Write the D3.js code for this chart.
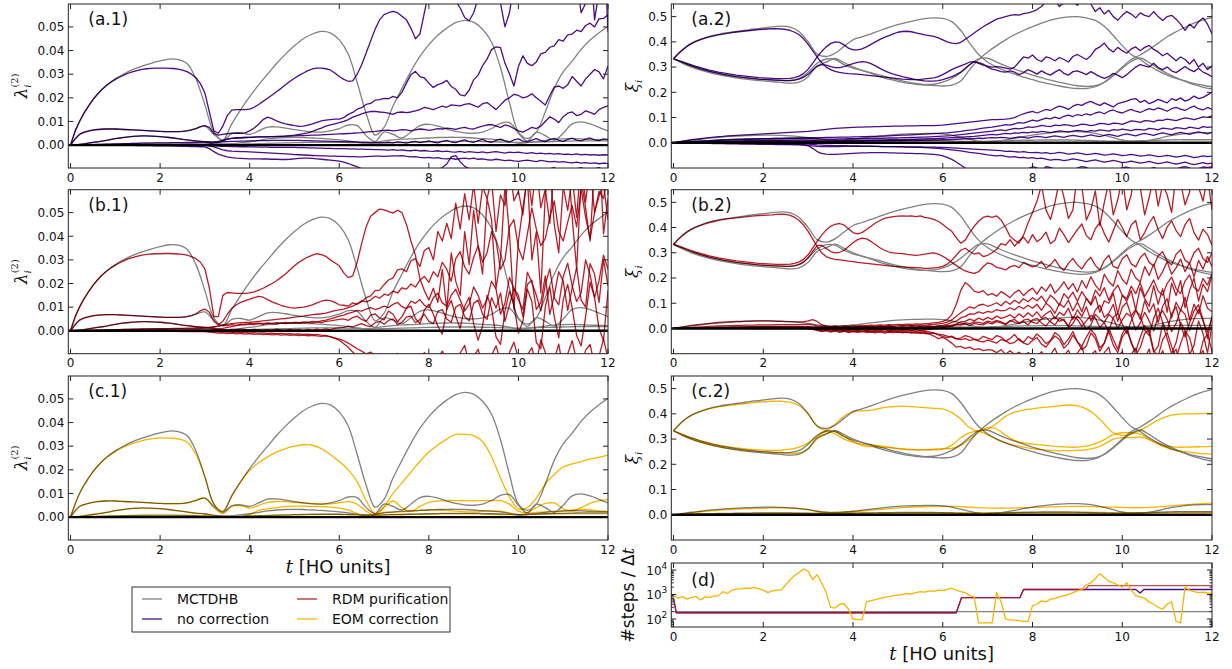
<!DOCTYPE html>
<html><head><meta charset="utf-8">
<script src="https://cdn.jsdelivr.net/npm/d3@7"></script>
<style>
html,body{margin:0;padding:0;background:#fff;}
svg{display:block;font-family:"DejaVu Sans",sans-serif;}
.mult{mix-blend-mode:multiply;}
</style></head><body>
<script>
// ---------- sampling grids (time in HO units) ----------
const tCoarse = d3.range(61).map(i => i / 5);   // step 0.2
const tFine = d3.range(121).map(i => i / 10);   // step 0.1

// value units: lambda arrays in 1e-4, xi arrays in 1e-3
const LAM = 1e-4, XI = 1e-3;

// ---------- MCTDHB reference: lambda^(2) (coarse grid) ----------
const lamRef1 = [0,
 100,165,215,252,280, 302,320,334,346,356, 364,362,345,280,170, 55,22,90,150,205,
 255,300,345,385,420, 450,470,481,475,445, 385,265,135,42,75, 165,240,312,375,425,
 465,495,518,528,520, 490,435,327,180,55, 28,55,140,240,310, 355,405,445,475,503];
const lamRef2 = [0,
 45,58,65,68,68, 66,64,62,60,58, 57,57,60,70,80, 45,20,48,52,45,
 60,76,77,72,65, 60,56,55,60,70, 85,82,40,15,55, 45,30,55,82,88,
 80,68,58,52,50, 55,70,92,95,50, 18,55,40,20,50, 90,98,90,75,60];
const lamRef3 = [0,
 3,8,14,20,27, 33,37,39,38,36, 32,27,22,17,14, 8,5,6,10,14,
 20,26,30,32,33, 32,30,28,25,22, 18,12,8,12,18, 22,25,26,28,30,
 32,33,33,32,30, 27,25,22,15,8, 10,15,20,24,26, 27,26,24,23,22];
const lamRef4 = [0,
 1,2,3,4,5, 6,7,8,8,8, 8,8,7,6,5, 4,3,3,4,5,
 6,7,8,9,10, 11,12,12,12,12, 11,10,9,8,9, 10,11,12,13,14,
 15,16,16,16,16, 15,14,13,12,11, 12,13,14,15,16, 17,18,18,18,18];

// ---------- MCTDHB reference: xi (coarse grid) ----------
const xiRef1 = [333,
 370,395,410,422,430, 436,441,446,451,455, 459,462,458,440,400, 352,342,355,382,408,
 420,432,445,457,468, 477,485,492,495,493, 480,445,395,350,320, 300,285,272,260,250,
 240,232,225,219,215, 215,222,240,268,300, 330,348,370,395,420, 440,458,474,487,497];
const xiRef2 = [333,
 318,305,293,283,275, 268,262,257,253,250, 248,247,247,255,280, 315,332,330,310,296,
 287,278,268,258,249, 241,235,230,227,225, 228,245,290,330,360, 385,408,428,445,460,
 474,486,494,499,500, 495,485,462,425,385, 350,330,305,285,268, 255,245,235,228,222];
const xiRef3 = [333,
 315,300,288,278,270, 263,257,252,248,245, 242,239,236,240,262, 305,320,334,318,300,
 287,275,262,252,243, 236,232,230,232,240, 255,278,308,333,335, 320,305,292,280,268,
 258,248,240,232,226, 223,226,240,265,295, 322,336,318,295,275, 258,243,230,220,213];
const xiRef4 = [0,
 5,10,14,18,21, 24,26,28,29,30, 30,29,27,24,20, 14,10,9,11,14,
 18,22,26,30,33, 35,36,37,37,35, 30,22,13,6,4, 6,11,17,24,30,
 35,39,42,44,44, 42,37,29,20,11, 5,4,9,17,25, 31,36,39,40,40];
const xiRef5 = [0,
 1,2,3,4,5, 5,6,6,7,7, 7,7,7,6,6, 5,5,5,6,6,
 7,7,8,8,9, 9,9,9,9,8, 7,6,5,5,6, 7,8,9,10,10,
 11,11,11,11,10, 9,8,7,6,6, 7,8,9,10,11, 12,12,12,12,12];

// ---------- no correction: lambda^(2) (fine grid) ----------
const lamNoCorr1 = [0,
 60,100,135,165,192,215,235,252,266,278, 288,297,305,311,316,320,323,325,326,326,
 326,325,324,321,317,311,300,285,260,220, 140,60,50,80,125,148,150,150,150,152,
 160,172,185,198,212,226,240,255,270,283, 295,305,315,322,326,326,323,318,305,290,
 278,270,272,300,340,390,440,490,530,552, 560,566,560,545,530,495,450,470,560,650,
 700,720,700,660,640,610,580,540,526,560, 620,680,720,700,690,600,500,560,680,760,
 800,820,800,790,800,820,850,860,870,880, 900,850,700,560,600,800,530,650,900,480];
const lamNoCorr2 = [0,
 25,45,55,60,64,66,67,68,68,68, 67,66,65,64,63,62,61,60,59,58,
 57,57,57,57,58,60,64,70,78,82, 75,48,42,45,48,50,50,50,52,60,
 72,88,108,118,112,102,95,90,86,82, 79,80,84,90,96,102,106,108,110,110,
 116,130,138,152,158,172,176,190,192,198, 196,206,200,224,262,298,312,290,284,262,
 244,256,262,274,248,236,212,208,232,276, 296,336,364,404,416,412,346,302,250,332,
 378,346,336,352,386,392,414,420,446,440, 466,470,486,480,506,516,500,534,536,552];
const lamNoCorr3 = [0,
 1,3,5,8,11,14,17,20,24,27, 30,33,35,37,38,39,39,38,37,36,
 34,32,30,27,24,22,20,18,16,14, 12,10,12,18,25,28,30,31,32,33,
 34,35,35,35,36,36,37,38,40,42, 45,48,52,58,65,72,80,85,90,95,
 100,108,118,125,132,138,142,143,140,138, 135,130,138,140,137,140,145,150,160,155,
 150,158,165,160,170,168,166,172,175,168, 160,175,180,165,150,170,190,200,215,210,
 200,205,217,200,185,170,210,245,250,240, 255,290,270,250,280,300,320,310,280,335];
const lamNoCorr4 = [0,
 0,1,1,2,2,3,3,4,4,5, 5,6,6,7,7,8,8,8,9,9,
 9,9,10,10,10,11,11,12,12,13, 13,14,16,20,25,28,30,31,32,33,
 34,35,35,36,36,37,37,38,38,39, 40,40,41,42,42,43,44,45,46,47,
 48,49,50,52,53,55,57,58,60,62, 63,60,62,65,64,60,64,68,66,62,
 65,70,68,72,70,66,72,75,70,68, 75,80,85,87,80,75,85,80,70,60,
 55,65,75,70,80,100,120,110,95,120, 135,140,125,130,145,138,130,150,160,166];
const lamNoCorr5 = [0,
 0,0,0,0,0,0,0,0,0,0, -1,-1,-1,-1,-2,-2,-2,-2,-3,-3,
 -3,-3,-4,-4,-5,-5,-6,-6,-7,-8, -15,-28,-38,-45,-50,-53,-55,-56,-57,-58,
 -58,-58,-59,-59,-60,-60,-61,-61,-60,-58, -56,-55,-55,-56,-58,-60,-62,-64,-66,-68,
 -72,-78,-85,-92,-100,-108,-115,-120,-125,-128, -130,-132,-128,-125,-130,-135,-130,-120,-125,-135,
 -120,-105,-95,-80,-50,-45,-70,-90,-100,-110, -120,-110,-100,-115,-125,-120,-105,-110,-125,-130,
 -118,-105,-112,-125,-130,-115,-100,-95,-110,-120, -125,-110,-100,-95,-105,-110,-100,-95,-105,-100];
const lamNoCorr6 = [0,
 0,0,0,0,0,0,0,0,0,0, 0,0,0,0,0,-1,-1,-1,-1,-1,
 -1,-1,-1,-1,-1,-1,-1,-1,-2,-2, -3,-8,-14,-20,-24,-26,-27,-28,-28,-29,
 -30,-31,-32,-33,-34,-35,-36,-37,-38,-40, -41,-42,-43,-44,-45,-46,-46,-47,-47,-48,
 -48,-49,-49,-50,-50,-49,-48,-47,-47,-48, -47,-46,-46,-45,-48,-50,-49,-52,-54,-52,
 -55,-53,-57,-58,-56,-60,-57,-55,-58,-55, -60,-58,-62,-64,-60,-63,-66,-64,-67,-69,
 -66,-64,-67,-70,-65,-68,-71,-69,-72,-70, -73,-75,-72,-76,-74,-77,-75,-79,-76,-78];
const lamNoCorr7 = [0,
 0,0,0,0,0,0,0,0,0,0, 0,0,0,0,0,0,0,0,0,0,
 0,0,0,1,1,1,1,1,2,2, 5,10,12,14,15,16,16,17,17,18,
 18,19,19,19,20,20,20,20,20,20, 20,19,19,18,18,17,17,16,16,15,
 15,14,14,13,12,12,11,11,10,10, 12,9,14,11,8,13,16,10,14,18,
 12,9,16,20,13,10,17,22,15,11, 19,24,16,12,20,25,18,13,22,26,
 17,14,21,27,19,15,23,28,20,16, 24,29,21,18,25,30,22,19,26,24];
const lamNoCorr8 = [0,
 0,0,0,0,0,0,0,0,0,0, 0,0,0,0,0,0,0,0,0,0,
 0,0,0,0,0,0,0,0,0,-1, -2,-3,-4,-5,-5,-6,-6,-7,-7,-8,
 -8,-9,-9,-9,-10,-10,-10,-10,-10,-10, -11,-11,-12,-12,-13,-13,-14,-14,-15,-15,
 -15,-16,-16,-17,-17,-18,-18,-19,-19,-20, -21,-19,-22,-20,-23,-24,-21,-25,-23,-26,
 -27,-24,-28,-26,-29,-30,-27,-31,-28,-30, -32,-29,-33,-30,-28,-31,-34,-30,-32,-30,
 -33,-35,-32,-36,-34,-37,-35,-38,-36,-39, -38,-40,-37,-41,-39,-42,-40,-43,-41,-42];

// ---------- no correction: xi (fine grid) ----------
const xiNoCorr1 = [333,
 352,368,382,393,402,409,415,420,424,428, 431,434,437,439,441,443,445,447,449,450,
 451,452,452,451,449,445,438,428,412,390, 365,340,318,300,290,283,279,276,274,273,
 272,270,268,266,264,262,260,258,256,254, 252,251,250,250,251,253,255,257,262,270,
 280,290,298,305,312,320,322,315,308,304, 300,302,300,296,292,300,320,340,335,348,
 330,322,340,335,325,338,330,320,342,350, 340,330,345,370,380,395,372,360,378,365,
 355,372,380,365,378,386,370,360,345,355, 340,325,340,330,312,330,300,315,290,305];
const xiNoCorr2 = [333,
 327,321,315,309,303,298,293,288,284,280, 277,274,271,268,266,264,262,260,258,257,
 256,255,254,254,254,255,258,264,275,292, 315,340,362,380,393,400,398,388,375,368,
 368,372,380,390,400,410,418,425,432,438, 441,442,440,436,432,428,425,422,416,408,
 400,395,393,398,410,422,435,448,460,470, 480,490,495,500,505,508,506,512,515,520,
 528,540,560,575,565,540,555,580,560,545, 570,585,550,520,535,510,525,500,486,505,
 520,510,495,515,505,500,520,500,485,500, 505,490,470,445,470,455,480,495,470,432];
const xiNoCorr3 = [333,
 326,319,312,305,299,293,288,283,279,275, 271,268,265,262,260,258,256,254,252,251,
 250,249,248,247,246,246,248,252,260,272, 288,303,310,308,302,298,298,302,308,314,
 319,322,320,314,305,295,286,278,272,267, 262,258,254,250,247,245,244,244,246,250,
 256,262,270,280,295,310,322,318,312,300, 292,288,282,280,285,280,270,278,290,282,
 272,285,275,268,280,290,275,268,282,285, 278,270,282,272,262,255,262,275,268,258,
 270,285,300,310,305,300,315,298,290,300, 285,278,290,302,290,282,295,280,272,262];
const xiNoCorr4 = [0,
 3,6,9,12,14,16,18,20,22,24, 25,27,28,29,30,31,32,33,34,35,
 36,37,38,39,40,41,42,43,44,45, 47,49,51,53,55,57,58,59,60,61,
 62,62,63,63,64,64,65,65,66,66, 66,67,67,67,68,68,68,68,69,70,
 72,74,76,78,80,82,84,86,88,90, 92,92,93,94,96,100,108,115,120,124,
 118,125,132,128,138,145,140,132,145,152, 148,158,164,155,148,158,150,142,155,160,
 165,172,175,160,168,155,162,172,165,158, 175,168,178,165,172,185,175,180,190,200];
const xiNoCorr5 = [0,
 1,2,3,4,5,6,7,8,9,10, 11,12,13,13,14,14,15,15,16,16,
 16,17,17,17,18,18,18,19,19,20, 20,20,20,21,21,21,22,22,22,23,
 23,24,24,25,25,26,26,27,28,29, 30,30,31,32,33,34,35,36,37,38,
 39,41,43,45,48,50,52,55,58,60, 62,65,68,72,70,75,80,78,84,90,
 86,92,98,95,102,96,105,110,104,112, 108,115,110,118,122,115,125,130,122,118,
 126,132,125,120,128,135,130,138,132,125, 135,140,133,128,138,145,135,130,140,132];
const xiNoCorr6 = [0,
 1,2,3,4,5,6,7,8,9,10, 11,12,12,13,13,14,14,15,15,16,
 16,16,17,17,17,18,18,18,18,18, 17,16,15,14,14,14,15,15,16,16,
 16,17,17,17,18,18,18,19,19,19, 20,20,21,21,22,22,23,24,25,26,
 27,28,30,32,34,36,38,40,42,44, 46,49,51,48,53,57,55,58,63,61,
 64,69,66,64,70,68,72,70,66,69, 74,72,68,71,77,76,72,78,77,73,
 80,87,85,81,88,87,83,90,89,94, 91,88,94,99,96,92,97,103,101,107];
const xiNoCorr7 = [0,
 0,1,1,2,2,3,3,4,4,5, 5,6,6,7,7,8,8,8,9,9,
 9,10,10,10,10,11,11,11,11,11, 10,8,7,7,7,8,8,8,9,9,
 9,10,10,10,11,11,11,12,12,12, 13,13,14,14,15,15,16,16,17,18,
 19,20,21,22,23,24,25,27,29,31, 33,31,34,37,35,39,38,41,39,43,
 41,45,43,40,44,47,45,42,46,49, 47,44,48,46,51,49,46,52,50,54,
 51,48,53,52,50,57,55,51,58,56, 53,60,58,55,62,59,56,64,61,63];
const xiNoCorr8 = [0,
 0,0,1,1,1,2,2,2,3,3, 3,3,4,4,4,4,5,5,5,5,
 5,5,6,6,6,6,6,6,6,6, 6,6,5,5,5,5,5,5,6,6,
 6,6,7,7,7,7,8,8,8,8, 8,9,9,9,10,10,10,11,11,12,
 12,13,14,15,16,17,16,18,17,19, 20,19,21,20,17,20,23,21,18,22,
 25,23,20,24,27,24,21,26,29,26, 23,27,31,27,24,29,33,29,25,31,
 35,31,27,33,37,33,29,35,39,35, 31,37,41,37,33,39,43,39,35,41];
const xiNoCorr9 = [0,
 0,0,0,0,0,-1,-1,-1,-1,-1, -1,-2,-2,-2,-2,-2,-3,-3,-3,-3,
 -3,-4,-4,-4,-4,-5,-5,-6,-8,-12, -22,-35,-42,-45,-46,-46,-45,-44,-43,-42,
 -41,-40,-40,-39,-39,-39,-39,-40,-40,-41, -41,-42,-42,-43,-43,-44,-45,-46,-48,-52,
 -58,-66,-76,-88,-100,-110,-118,-125,-130,-132, -135,-130,-125,-128,-132,-125,-118,-110,-102,-95,
 -100,-108,-95,-98,-105,-112,-120,-115,-108,-100, -95,-98,-106,-112,-118,-125,-120,-112,-105,-100,
 -96,-102,-110,-118,-112,-105,-98,-104,-112,-118, -110,-104,-98,-95,-100,-108,-102,-96,-98,-96];
const xiNoCorr10 = [0,
 0,0,-1,-1,-1,-2,-2,-2,-3,-3, -3,-4,-4,-4,-5,-5,-5,-5,-6,-6,
 -6,-6,-7,-7,-7,-7,-8,-8,-9,-10, -12,-14,-15,-15,-15,-15,-15,-14,-14,-14,
 -14,-14,-14,-14,-14,-15,-15,-15,-15,-15, -15,-16,-16,-16,-16,-17,-17,-17,-18,-18,
 -19,-20,-21,-22,-23,-24,-25,-26,-27,-28, -29,-30,-31,-34,-33,-35,-37,-35,-38,-39,
 -38,-41,-39,-43,-41,-38,-41,-45,-43,-40, -43,-47,-45,-42,-45,-49,-47,-44,-47,-51,
 -49,-46,-49,-53,-51,-48,-51,-55,-53,-50, -53,-57,-54,-50,-54,-59,-56,-52,-55,-53];
const xiNoCorr11 = [0,
 0,0,0,0,0,0,0,-1,-1,-1, -1,-1,-1,-2,-2,-2,-2,-2,-3,-3,
 -3,-3,-3,-3,-4,-4,-4,-4,-5,-5, -6,-8,-9,-10,-10,-11,-11,-11,-12,-12,
 -12,-13,-13,-13,-14,-14,-15,-15,-15,-16, -16,-17,-17,-18,-18,-19,-20,-21,-22,-24,
 -26,-28,-30,-32,-35,-38,-40,-42,-45,-48, -50,-52,-50,-54,-57,-55,-59,-58,-61,-59,
 -63,-61,-65,-69,-66,-67,-71,-68,-64,-67, -71,-75,-71,-68,-73,-77,-74,-70,-74,-79,
 -77,-73,-77,-81,-78,-74,-79,-83,-80,-76, -81,-85,-81,-77,-83,-87,-83,-79,-84,-81];

// ---------- RDM purification: lambda^(2) (fine grid) ----------
const lamPurif1 = [0,
 60,100,135,165,192,215,235,252,266,278, 288,297,305,311,316,320,323,325,326,326,
 327,327,326,325,323,320,314,305,290,262, 180,60,60,150,162,160,158,158,158,160,
 165,172,180,190,200,212,226,240,258,275, 290,302,312,320,326,322,315,300,288,275,
 245,225,232,290,370,440,485,500,515,512, 505,498,510,500,450,380,320,220,170,130,
 180,120,260,90,330,210,150,420,280,510, 360,240,560,470,180,300,620,410,90,380,
 520,650,300,420,160,580,700,450,330,610, 750,480,260,640,520,380,700,820,410,560];
const lamPurif2 = [0,
 25,45,55,60,64,66,67,68,68,68, 67,66,65,64,63,62,61,60,59,58,
 57,57,57,57,58,60,64,72,85,92, 78,40,25,40,70,95,110,120,128,134,
 140,146,142,132,122,115,108,102,98,96, 98,100,104,110,118,125,130,128,120,110,
 108,104,118,112,128,122,130,146,138,155, 150,168,160,182,176,198,185,214,230,205,
 250,228,290,260,210,305,335,270,240,310, 360,290,330,420,380,260,300,440,470,350,
 300,410,520,430,360,390,480,550,420,380, 460,530,440,600,480,390,500,570,620,470];
const lamPurif3 = [0,
 1,3,5,8,11,14,17,20,24,27, 30,33,35,37,38,39,39,38,37,36,
 34,32,30,27,24,22,20,18,16,14, 12,10,8,10,14,18,22,25,28,30,
 31,32,30,33,31,34,32,35,33,36, 34,38,36,40,38,42,45,50,56,62,
 66,74,79,86,83,92,98,90,96,104, 98,112,120,102,94,126,116,132,108,98,
 140,160,118,104,150,176,130,84,112,186, 150,96,132,210,176,70,118,226,180,130,
 90,248,204,150,84,196,262,140,110,230, 286,190,124,160,300,236,140,212,320,260];
const lamPurif4 = [0,
 0,1,1,2,2,3,3,4,4,5, 5,6,6,7,7,8,8,8,9,9,
 9,9,10,10,10,11,11,12,12,13, 15,18,20,24,22,26,23,27,25,28,
 26,30,27,31,29,28,32,30,33,31, 34,32,36,33,38,35,40,42,45,48,
 50,44,56,62,48,40,66,72,54,46, 84,70,38,60,96,104,52,30,88,112,
 70,20,-14,90,128,60,10,104,142,30, -40,20,150,96,-26,-58,84,168,110,-10,
 40,176,124,-50,-76,100,186,60,-30,132, 196,96,-20,-64,60,206,140,8,-40,170];
const lamPurif5 = [0,
 0,0,0,0,0,0,0,0,0,0, 0,0,0,-1,-1,-1,-1,-1,-1,-2,
 -2,-2,-2,-2,-3,-3,-3,-3,-4,-4, -6,-8,-10,-9,-12,-10,-13,-11,-14,-12,
 -15,-13,-16,-14,-17,-15,-18,-16,-19,-17, -20,-18,-21,-19,-22,-24,-22,-26,-30,-35,
 -42,-52,-64,-76,-86,-98,-90,-106,-118,-100, -122,-108,-96,-132,-124,-104,-140,-120,-92,-128,
 -148,-116,-86,-122,-162,-118,-94,-62,-138,-110, -78,-146,-168,-104,-64,-126,-156,-92,-48,-118,
 -158,-102,-72,-138,-38,-92,-152,-122,-56,-162, -98,-42,-128,-158,-82,-58,-146,-108,-34,-118];
const lamPurif6 = [0,
 0,0,0,0,0,0,0,0,0,0, 0,0,0,0,0,0,0,0,-1,-1,
 -1,-1,-1,-1,-1,-2,-2,-2,-2,-2, -3,-4,-5,-6,-5,-7,-6,-8,-7,-9,
 -8,-10,-9,-11,-10,-12,-11,-13,-12,-14, -13,-15,-14,-16,-15,-18,-20,-25,-32,-40,
 -55,-70,-90,-110,-130,-150,-140,-160,-150,-170, -160,-180,-150,-175,-190,-160,-185,-170,-195,-175,
 -160,-185,-170,-195,-180,-160,-190,-175,-200,-180, -165,-190,-175,-200,-185,-170,-195,-180,-160,-190,
 -175,-200,-185,-165,-190,-180,-200,-170,-190,-180, -165,-195,-180,-200,-175,-190,-170,-195,-185,-180];
const lamPurif7 = [0,
 0,0,1,1,1,2,2,2,3,3, 3,4,4,4,5,5,5,6,6,6,
 6,7,7,7,8,8,8,9,9,10, 12,15,20,25,28,30,32,34,35,36,
 38,40,42,44,46,48,50,52,55,58, 60,62,65,68,70,72,75,80,85,88,
 92,98,104,115,122,140,148,170,172,195, 215,224,258,262,250,296,305,272,340,352,
 300,420,380,455,390,540,430,580,470,620, 455,610,560,640,420,575,530,700,550,590,
 490,670,530,705,520,600,455,690,600,610, 510,650,480,730,545,700,500,590,560,660];
const lamPurif8 = [0,
 0,0,0,1,1,1,1,1,1,1, 1,1,1,1,1,1,1,1,1,1,
 1,1,1,1,1,1,1,1,1,1, 2,4,6,5,3,6,4,7,5,3,
 6,4,2,5,3,7,4,2,6,3, 5,2,6,3,7,4,8,5,10,12,
 14,20,16,24,30,22,18,34,40,28, 44,50,26,36,58,62,34,48,70,40,
 30,82,90,50,36,100,112,60,42,116, 130,70,48,140,96,160,40,110,178,150,
 60,196,214,90,120,232,70,150,250,210, 86,180,268,130,100,284,240,120,300,190];

// ---------- RDM purification: xi (fine grid) ----------
const xiPurif1 = [333,
 352,368,382,393,402,409,415,420,424,428, 431,434,436,438,440,442,444,446,447,448,
 449,450,452,453,452,448,440,428,410,385, 355,325,300,285,278,274,272,270,267,265,
 262,260,258,256,254,252,250,248,246,245, 244,243,242,241,240,238,238,240,242,246,
 255,270,290,310,318,305,295,300,285,290, 300,314,336,330,352,326,348,362,338,372,
 344,358,382,336,350,398,372,340,366,392, 414,368,352,396,420,376,342,388,432,400,
 364,410,428,352,380,418,444,392,356,402, 426,388,364,412,436,380,350,394,372,330];
const xiPurif2 = [333,
 327,321,315,309,303,298,293,288,284,280, 277,274,271,268,266,264,262,260,258,257,
 256,255,254,254,254,255,258,264,275,292, 318,345,370,390,405,413,416,410,395,380,
 375,380,392,405,418,428,436,440,443,445, 446,445,446,443,446,440,437,432,425,412,
 398,385,360,338,350,380,405,425,440,445, 440,446,430,400,365,350,338,370,418,460,
 505,568,470,432,498,590,520,436,470,610, 560,430,470,545,408,500,580,450,510,600,
 470,530,640,560,450,520,600,485,570,530, 460,610,580,490,540,650,560,505,600,470];
const xiPurif3 = [333,
 326,319,312,305,299,293,288,283,279,275, 271,268,265,262,260,258,256,254,252,251,
 250,249,248,247,246,246,248,253,262,280, 305,328,330,318,305,300,302,310,325,340,
 352,358,355,345,333,320,310,303,300,298, 297,294,292,290,292,295,298,300,295,286,
 275,262,250,238,228,222,218,225,245,260, 255,242,238,232,244,250,241,262,252,244,
 250,266,240,252,274,246,230,258,278,252, 236,264,282,250,232,270,290,246,238,276,
 292,256,244,280,298,262,248,288,304,266, 252,294,312,270,258,300,318,276,262,300];
const xiPurif4 = [0,
 3,6,9,12,14,16,18,20,22,24, 25,26,27,28,28,29,29,30,30,30,
 30,29,28,28,27,27,26,26,27,30, 35,28,15,10,8,9,8,10,9,11,
 10,12,11,13,12,14,13,15,14,16, 15,17,16,18,17,19,20,22,24,28,
 35,55,95,150,182,168,148,142,150,132, 138,128,146,135,122,142,152,130,148,160,
 136,165,148,176,140,160,185,155,178,145, 190,160,205,172,150,215,185,168,230,195,
 175,235,200,185,245,210,255,195,225,265, 215,240,275,225,260,205,270,235,285,245];
const xiPurif5 = [0,
 1,2,3,4,5,6,7,8,9,10, 10,11,11,12,12,13,13,13,14,14,
 14,14,15,15,15,15,15,15,16,16, 14,10,8,6,5,6,4,7,5,6,
 8,6,9,7,8,10,8,11,9,10, 12,10,13,11,14,12,15,16,18,20,
 25,34,48,62,74,86,80,92,96,88, 94,102,90,108,96,112,100,118,106,122,
 110,128,102,132,116,92,138,118,144,108, 146,118,98,152,128,162,112,148,172,132,
 118,168,138,182,126,158,192,148,132,178, 204,158,138,188,212,162,148,198,172,218];
const xiPurif6 = [0,
 0,1,1,2,2,3,3,4,4,5, 5,5,6,6,6,7,7,7,8,8,
 8,8,8,8,8,8,8,8,8,8, 6,4,2,3,1,4,2,5,3,1,
 4,2,5,3,1,4,6,3,5,2, 5,3,6,4,7,5,8,6,10,12,
 16,24,29,42,48,58,57,66,60,68, 64,75,70,72,82,74,88,78,92,80,
 96,72,100,86,60,98,84,112,70,105, 66,120,92,128,64,110,100,140,58,132,
 108,150,74,162,118,88,170,96,158,64, 180,130,190,82,150,200,108,176,146,210];
const xiPurif7 = [0,
 0,0,1,1,1,1,2,2,2,2, 2,3,3,3,3,3,3,4,4,4,
 4,4,4,4,4,4,4,4,4,4, 2,0,-2,1,-1,2,0,3,-1,1,
 2,-1,3,0,2,-2,1,3,0,2, -1,2,4,1,3,0,4,2,5,6,
 8,13,17,26,28,37,30,41,33,44, 36,49,40,46,54,41,58,44,62,47,
 66,42,58,70,38,64,52,80,36,74, 48,86,30,72,92,44,60,96,28,84,
 104,50,76,36,110,64,98,22,88,118, 42,104,70,124,34,96,58,130,80,66];
const xiPurif8 = [0,
 0,0,0,0,1,1,1,1,1,1, 1,1,1,1,1,2,2,2,2,2,
 2,2,2,2,2,2,2,2,2,2, 0,-3,-5,-2,-6,-3,-7,-4,-8,-5,
 -7,-4,-8,-5,-3,-7,-4,-8,-6,-3, -6,-4,-7,-5,-8,-6,-4,-2,0,3,
 6,10,15,17,22,19,26,24,20,29, 24,32,26,18,30,36,22,28,14,34,
 40,22,10,32,46,28,36,4,20,50, 30,-4,14,56,38,22,-12,44,60,18,
 -20,30,70,52,-6,-28,40,80,24,-10, 58,86,12,-34,22,70,94,36,-40,50];
const xiPurif9 = [0,
 0,0,0,0,0,0,0,0,0,0, 0,0,0,0,0,0,-1,-1,-1,-1,
 -1,-1,-1,-1,-1,-1,-1,-1,-1,-1, -4,-8,-12,-9,-14,-10,-15,-11,-16,-12,
 -15,-11,-16,-13,-17,-12,-18,-14,-16,-13, -17,-14,-18,-15,-19,-16,-20,-18,-22,-25,
 -30,-34,-41,-44,-40,-47,-43,-50,-53,-46, -52,-58,-44,-49,-60,-55,-40,-58,-64,-48,
 -36,-62,-74,-50,-30,-44,-78,-60,-26,-52, -84,-70,-18,-40,-90,-58,-12,-66,-96,-34,
 -8,-52,-104,-76,-20,-6,-88,-110,-44,-16, -72,-118,-60,-10,-36,-104,-124,-50,-22,-90];
const xiPurif10 = [0,
 0,0,0,0,0,0,0,0,0,0, 0,0,0,0,0,0,0,0,0,0,
 0,0,0,0,0,0,0,0,0,-1, -3,-6,-9,-7,-10,-8,-11,-9,-12,-10,
 -11,-13,-10,-14,-11,-15,-12,-14,-11,-15, -13,-16,-14,-18,-15,-20,-22,-30,-40,-35,
 -45,-58,-74,-71,-79,-74,-84,-80,-88,-84, -86,-96,-84,-102,-88,-104,-94,-108,-96,-106,
 -112,-92,-118,-104,-78,-122,-108,-86,-128,-98, -72,-134,-106,-88,-142,-96,-74,-146,-112,-92,
 -148,-102,-78,-138,-118,-82,-152,-124,-88,-144, -108,-82,-152,-122,-98,-158,-112,-88,-138,-124];
const xiPurif11 = [0,
 0,0,0,0,0,0,0,0,0,0, 0,0,0,0,0,0,0,0,0,0,
 0,0,0,0,0,0,0,0,0,0, -2,-5,-3,-6,-4,-7,-5,-8,-6,-4,
 -7,-5,-8,-6,-9,-7,-5,-8,-6,-9, -7,-10,-8,-11,-9,-12,-14,-18,-25,-32,
 -36,-30,-40,-38,-28,-33,-42,-46,-31,-38, -44,-28,-34,-50,-40,-24,-46,-55,-32,-42,
 -22,-38,-60,-48,-16,-30,-64,-42,-12,-54, -70,-34,-4,-26,-76,-58,2,-44,-82,-20,
 8,-60,-90,-36,12,-18,-94,-70,18,-40, -100,-56,24,-8,-104,-66,30,-20,-98,14];
const xiPurif12 = [0,
 0,0,0,0,0,0,0,0,0,0, 0,0,0,0,0,0,0,0,0,0,
 0,0,0,0,0,0,0,0,0,0, 3,6,4,8,5,9,6,3,7,4,
 8,5,2,6,3,7,4,8,5,2, 6,3,7,4,8,5,9,6,10,8,
 12,8,15,13,18,11,20,16,14,23, 18,27,22,15,31,25,19,33,37,24,
 20,38,44,26,14,40,32,10,47,36, 8,30,52,42,4,24,55,40,0,34,
 60,46,-6,22,64,30,-10,48,70,36, -12,20,74,56,-8,38,76,30,-16,44];

// ---------- EOM correction: lambda^(2) (coarse grid) ----------
const lamEom1 = [0,
 100,165,215,252,278, 298,313,324,331,335, 334,331,318,265,170, 55,25,90,150,198,
 230,255,275,290,300, 306,304,290,265,235, 200,150,70,15,45, 100,145,190,235,275,
 305,330,350,350,345, 320,255,165,85,35, 40,80,140,180,212, 225,235,245,253,262];
const lamEom2 = [0,
 45,58,65,68,68, 66,64,62,60,58, 57,57,60,72,80, 40,15,45,48,38,
 50,62,66,65,62, 60,58,55,56,60, 65,55,25,8,40, 68,40,25,45,62,
 68,70,70,70,69, 70,70,70,55,25, 20,40,58,60,35, 25,40,58,70,74];
const lamEom3 = [0,
 3,8,14,20,27, 33,37,38,37,35, 31,26,21,16,12, 6,3,2,1,10,
 28,35,40,44,46, 46,45,44,42,38, 30,15,5,10,20, 20,22,25,28,30,
 30,28,25,22,22, 24,26,25,18,10, 15,20,22,22,25, 30,32,30,26,24];
const lamEom4 = [0,
 1,2,3,4,4, 5,5,6,6,6, 6,6,5,5,4, 3,2,2,3,4,
 5,6,7,8,9, 10,10,11,11,11, 10,9,8,8,9, 10,11,12,12,13,
 13,14,14,14,14, 13,12,11,10,10, 11,12,13,14,14, 15,15,15,15,15];

// ---------- EOM correction: xi (coarse grid) ----------
const xiEom1 = [333,
 370,395,410,421,428, 433,437,441,445,448, 450,450,446,432,400, 352,335,360,390,410,
 412,415,422,428,430, 430,428,425,422,420, 405,380,345,332,340, 362,390,407,415,420,
 425,428,432,435,432, 420,395,360,325,315, 320,335,355,375,390, 398,400,400,401,402];
const xiEom2 = [333,
 318,305,293,284,276, 270,265,261,258,256, 255,256,260,268,285, 310,330,320,300,288,
 280,277,273,268,262, 258,257,258,260,262, 263,275,300,330,345, 340,315,295,285,280,
 277,273,270,268,268, 272,282,298,318,325, 325,320,300,282,272, 268,268,269,270,271];
const xiEom3 = [333,
 315,300,288,278,270, 264,259,255,252,249, 246,244,243,245,262, 300,322,330,312,290,
 275,270,268,266,263, 260,258,257,257,260, 275,305,325,330,318, 300,285,275,268,262,
 258,255,254,254,255, 258,265,280,300,306, 306,308,298,280,265, 255,250,246,242,240];
const xiEom4 = [0,
 4,8,12,15,18, 20,22,24,25,26, 27,27,26,24,20, 13,9,9,10,12,
 15,18,21,24,27, 29,31,32,33,33, 33,32,30,28,27, 26,26,27,28,29,
 30,31,32,33,33, 33,32,31,30,29, 28,28,29,31,34, 37,40,42,44,46];
const xiEom5 = [0,
 1,2,3,3,4, 4,5,5,5,6, 6,6,6,6,5, 5,4,4,5,5,
 6,6,7,7,7, 8,8,8,8,8, 8,7,7,7,7, 7,8,8,8,9,
 9,9,9,9,9, 9,9,9,8,8, 8,8,9,9,9, 10,10,10,10,10];

// ---------- (d) number of steps per output interval ----------
const stepsExact = [[0, 200], [12, 200]];
const stepsNoCorr = [[0, 700], [0.06, 180], [6.3, 180], [6.42, 750], [7.72, 750], [7.8, 1600],
  [10.3, 1600], [10.4, 1150], [10.48, 1600], [12, 1600]];
const stepsPurif = [[0, 700], [0.06, 180], [6.3, 180], [6.42, 750], [7.72, 750], [7.8, 1600],
  [9.18, 1600], [9.25, 2300], [12, 2300]];
const stepsEom = [900,
 700,820,650,760,820,600,800,760,860,900, 1300,1100,1500,1650,1700,1800,1800,1900,1750,1500,
 1200,1400,1500,1500,2500,4000,6000,8000,11000,9000, 4000,6500,3000,1200,300,280,400,420,250,100,
 95,95,500,560,620,700,760,820,900,950, 1000,1100,1050,1200,1300,1250,1400,1350,1500,1450,
 1600,1800,1500,1300,1200,900,800,70,70,70, 70,1200,500,100,90,90,85,80,80,350,
 400,550,500,650,700,800,900,1000,1200,1400, 1600,2500,3000,4500,7000,5000,3500,3000,2500,2000,
 3000,1500,900,800,700,500,400,300,250,400, 500,80,70,2000,1500,1300,1200,1250,1150,1100];

// ---------- tick values ----------
const xTicks = [0, 2, 4, 6, 8, 10, 12];
const lamTicks = [0, 0.01, 0.02, 0.03, 0.04, 0.05];
const xiTicks = [0, 0.1, 0.2, 0.3, 0.4, 0.5];
const stepTicks = [100, 1000, 10000];

// ---------- styling ----------
const COL = { exact: "#808080", noCorr: "#4b0c87", purif: "#b81d28", eom: "#f7b500" };
const W = 1232, H = 669;
const svg = d3.select("body").append("svg").attr("width", W).attr("height", H);
const defs = svg.append("defs");
svg.append("rect").attr("width", W).attr("height", H).attr("fill", "#fff");

const COLS = { left: [68.3, 608], right: [671.3, 1212] };
const ROWS = { a: [4, 168], b: [189.7, 353.7], c: [376, 540], d: [563, 627] };

const pair = (grid, vals, unit) => {
  const n = Math.min(grid.length, vals.length);
  const out = [];
  for (let i = 0; i < n; i++) out.push([grid[i], vals[i] * unit]);
  return out;
};

const lamExactSet = [lamRef1, lamRef2, lamRef3, lamRef4].map(v => ({ pts: pair(tCoarse, v, LAM), color: COL.exact, smooth: true }));
const xiExactSet = [xiRef1, xiRef2, xiRef3, xiRef4, xiRef5].map(v => ({ pts: pair(tCoarse, v, XI), color: COL.exact, smooth: true }));

const panels = [
  { id: "a1", col: "left", row: "a", kind: "lam", label: "(a.1)",
    series: [...lamExactSet, ...[lamNoCorr1, lamNoCorr2, lamNoCorr3, lamNoCorr4, lamNoCorr5, lamNoCorr6, lamNoCorr7, lamNoCorr8]
      .map(v => ({ pts: pair(tFine, v, LAM), color: COL.noCorr, blend: true }))] },
  { id: "a2", col: "right", row: "a", kind: "xi", label: "(a.2)",
    series: [...xiExactSet, ...[xiNoCorr1, xiNoCorr2, xiNoCorr3, xiNoCorr4, xiNoCorr5, xiNoCorr6, xiNoCorr7, xiNoCorr8, xiNoCorr9, xiNoCorr10, xiNoCorr11]
      .map(v => ({ pts: pair(tFine, v, XI), color: COL.noCorr, blend: true }))] },
  { id: "b1", col: "left", row: "b", kind: "lam", label: "(b.1)",
    series: [...lamExactSet, ...[lamPurif1, lamPurif2, lamPurif3, lamPurif4, lamPurif5, lamPurif6, lamPurif7, lamPurif8]
      .map(v => ({ pts: pair(tFine, v, LAM), color: COL.purif, blend: true }))] },
  { id: "b2", col: "right", row: "b", kind: "xi", label: "(b.2)",
    series: [...xiExactSet, ...[xiPurif1, xiPurif2, xiPurif3, xiPurif4, xiPurif5, xiPurif6, xiPurif7, xiPurif8, xiPurif9, xiPurif10, xiPurif11, xiPurif12]
      .map(v => ({ pts: pair(tFine, v, XI), color: COL.purif, blend: true }))] },
  { id: "c1", col: "left", row: "c", kind: "lam", label: "(c.1)", xlabel: true,
    series: [...lamExactSet, ...[lamEom1, lamEom2, lamEom3, lamEom4]
      .map(v => ({ pts: pair(tCoarse, v, LAM), color: COL.eom, smooth: true, blend: true }))] },
  { id: "c2", col: "right", row: "c", kind: "xi", label: "(c.2)",
    series: [...xiExactSet, ...[xiEom1, xiEom2, xiEom3, xiEom4, xiEom5]
      .map(v => ({ pts: pair(tCoarse, v, XI), color: COL.eom, smooth: true, blend: true }))] },
  { id: "d", col: "right", row: "d", kind: "steps", label: "(d)", xlabel: true,
    series: [
      { pts: stepsExact, color: COL.exact },
      { pts: stepsNoCorr, color: COL.noCorr },
      { pts: stepsPurif, color: COL.purif, opacity: 0.8 },
      { pts: pair(tFine, stepsEom, 1), color: COL.eom }
    ] }
];

function yScaleFor(kind, top, bottom) {
  if (kind === "lam") return d3.scaleLinear().domain([-0.0097, 0.0597]).range([bottom, top]);
  if (kind === "xi") return d3.scaleLinear().domain([-0.1, 0.55]).range([bottom, top]);
  return d3.scaleLog().domain([Math.pow(10, 1.673), Math.pow(10, 4.286)]).range([bottom, top]);
}

const TICK = 5, FS = 12;

panels.forEach(p => {
  const [left, right] = COLS[p.col];
  const [top, bottom] = ROWS[p.row];
  const x = d3.scaleLinear().domain([-0.05, 12]).range([left, right]);
  const y = yScaleFor(p.kind, top, bottom);
  const g = svg.append("g");

  defs.append("clipPath").attr("id", "clip-" + p.id)
    .append("rect").attr("x", left).attr("y", top).attr("width", right - left).attr("height", bottom - top);

  const plot = g.append("g").attr("clip-path", `url(#clip-${p.id})`);
  const inner = plot.append("g");
  inner.append("rect").attr("x", left).attr("y", top).attr("width", right - left).attr("height", bottom - top).attr("fill", "#fff");

  const lineSmooth = d3.line().x(d => x(d[0])).y(d => y(d[1])).curve(d3.curveCatmullRom.alpha(0.5));
  const lineLin = d3.line().x(d => x(d[0])).y(d => y(d[1]));

  p.series.forEach(s => {
    inner.append("path")
      .attr("d", (s.smooth ? lineSmooth : lineLin)(s.pts))
      .attr("fill", "none")
      .attr("stroke", s.color)
      .attr("stroke-width", 1.3)
      .attr("stroke-linejoin", "round")
      .attr("opacity", s.opacity || 1)
      .attr("class", s.blend ? "mult" : null);
  });

  if (p.kind !== "steps") {
    plot.append("line").attr("x1", left).attr("x2", right).attr("y1", y(0)).attr("y2", y(0))
      .attr("stroke", "#000").attr("stroke-width", 2.4);
  }

  // frame
  g.append("rect").attr("x", left).attr("y", top).attr("width", right - left).attr("height", bottom - top)
    .attr("fill", "none").attr("stroke", "#222").attr("stroke-width", 1);

  // x ticks (inside, top and bottom) and labels
  xTicks.forEach(t => {
    const xx = x(t);
    g.append("line").attr("x1", xx).attr("x2", xx).attr("y1", bottom).attr("y2", bottom - TICK).attr("stroke", "#222");
    g.append("line").attr("x1", xx).attr("x2", xx).attr("y1", top).attr("y2", top + TICK).attr("stroke", "#222");
    g.append("text").attr("x", xx).attr("y", bottom + 13.5).attr("text-anchor", "middle")
      .attr("font-size", FS).attr("fill", "#111").text(t);
  });

  // y ticks
  const yt = p.kind === "lam" ? lamTicks : p.kind === "xi" ? xiTicks : stepTicks;
  yt.forEach(v => {
    const yy = y(v);
    g.append("line").attr("x1", left).attr("x2", left + TICK).attr("y1", yy).attr("y2", yy).attr("stroke", "#222");
    g.append("line").attr("x1", right).attr("x2", right - TICK).attr("y1", yy).attr("y2", yy).attr("stroke", "#222");
    if (p.kind === "steps") {
      const tx = g.append("text").attr("x", left - 4).attr("y", yy + 5).attr("text-anchor", "end")
        .attr("font-size", FS).attr("fill", "#111");
      tx.append("tspan").text("10");
      tx.append("tspan").attr("dy", -6).attr("font-size", 9).text(Math.round(Math.log10(v)));
    } else {
      g.append("text").attr("x", left - 4).attr("y", yy + 4.3).attr("text-anchor", "end")
        .attr("font-size", FS).attr("fill", "#111")
        .text(p.kind === "lam" ? d3.format(".2f")(v) : d3.format(".1f")(v));
    }
  });
  if (p.kind === "steps") {
    // minor log ticks
    const [lo, hi] = y.domain();
    for (let dec = 10; dec <= 10000; dec *= 10) {
      for (let m = 2; m <= 9; m++) {
        const v = dec * m;
        if (v < lo || v > hi) continue;
        const yy = y(v);
        g.append("line").attr("x1", left).attr("x2", left + 2.5).attr("y1", yy).attr("y2", yy).attr("stroke", "#222");
        g.append("line").attr("x1", right).attr("x2", right - 2.5).attr("y1", yy).attr("y2", yy).attr("stroke", "#222");
      }
    }
  }

  // panel tag
  g.append("text").attr("x", left + 20).attr("y", p.row === "d" ? 586 : top + 21)
    .attr("font-size", 17).attr("fill", "#111").text(p.label);

  // y axis label
  const cy = (top + bottom) / 2;
  if (p.kind === "lam") {
    const tl = g.append("text").attr("transform", `translate(27,${cy}) rotate(-90)`)
      .attr("text-anchor", "middle").attr("font-family", "DejaVu Serif").attr("font-style", "italic").attr("fill", "#111");
    tl.append("tspan").attr("font-size", 17).text("λ");
    tl.append("tspan").attr("font-size", 10).attr("dy", 4).text("i");
    tl.append("tspan").attr("font-size", 10).attr("font-style", "normal").attr("dx", -3).attr("dy", -13).text("(2)");
  } else if (p.kind === "xi") {
    const tl = g.append("text").attr("transform", `translate(638,${cy}) rotate(-90)`)
      .attr("text-anchor", "middle").attr("font-family", "DejaVu Serif").attr("font-style", "italic").attr("fill", "#111");
    tl.append("tspan").attr("font-size", 17).text("ξ");
    tl.append("tspan").attr("font-size", 10).attr("dy", 4).text("i");
  } else {
    const tl = g.append("text").attr("transform", `translate(634,${cy}) rotate(-90)`)
      .attr("text-anchor", "middle").attr("font-size", 17).attr("fill", "#111");
    tl.append("tspan").text("#steps / Δ");
    tl.append("tspan").attr("font-family", "DejaVu Serif").attr("font-style", "italic").text("t");
  }

  if (p.xlabel) {
    const xl = g.append("text").attr("x", (left + right) / 2).attr("y", bottom + 33)
      .attr("text-anchor", "middle").attr("font-size", 18).attr("fill", "#111");
    xl.append("tspan").attr("font-family", "DejaVu Serif").attr("font-style", "italic").text("t");
    xl.append("tspan").text(" [HO units]");
  }
});

// ---------- legend ----------
const leg = svg.append("g");
leg.append("rect").attr("x", 132).attr("y", 587).attr("width", 318).attr("height", 45)
  .attr("fill", "#fff").attr("stroke", "#333").attr("stroke-width", 1);
const legendItems = [
  { name: "MCTDHB", color: COL.exact, cx: 142, cy: 599 },
  { name: "no correction", color: COL.noCorr, cx: 142, cy: 619 },
  { name: "RDM purification", color: COL.purif, cx: 297, cy: 599 },
  { name: "EOM correction", color: COL.eom, cx: 297, cy: 619 }
];
legendItems.forEach(it => {
  leg.append("line").attr("x1", it.cx).attr("x2", it.cx + 20).attr("y1", it.cy).attr("y2", it.cy)
    .attr("stroke", it.color).attr("stroke-width", 1.5).attr("opacity", 0.85);
  leg.append("text").attr("x", it.cx + 35).attr("y", it.cy + 5).attr("font-size", 14).attr("fill", "#111").text(it.name);
});
</script>
</body></html>
